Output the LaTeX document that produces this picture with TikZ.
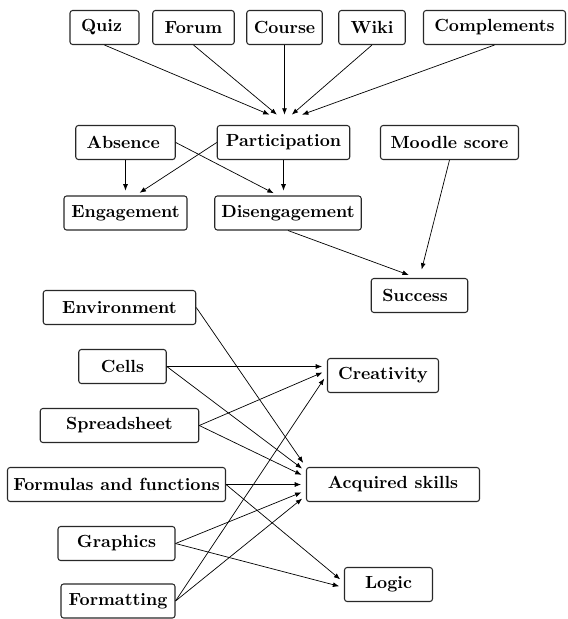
\documentclass[tikz,border=0pt]{standalone}
\usepackage{xcolor}
\usepackage{tikz}
\usetikzlibrary{positioning, arrows.meta, calc}
\definecolor{BoxLine}{RGB}{40,40,40}
\tikzset{
  concept/.style={draw=BoxLine, semithick, rounded corners=1.5pt, minimum height=0.68cm,
    inner sep=2pt, font=\bfseries, align=center},
  leftconcept/.style={concept, inner xsep=0.22cm, text width=#1, align=left},
  link/.style={-{Latex[length=3.6pt,width=2.8pt]}, shorten >=2.8pt},
}

\begin{document}
\begin{tikzpicture}
        \useasboundingbox (0,0) rectangle (11.34,-12.38);
        % resources
        \node[leftconcept=0.94cm] (quiz) at (2.09,-0.55) {Quiz};
        \node[concept, minimum width=1.63cm] (forum) at (3.87,-0.55) {Forum};
        \node[concept, minimum width=1.51cm] (course) at (5.69,-0.55) {Course};
        \node[concept, minimum width=1.33cm] (wiki) at (7.44,-0.55) {Wiki};
        \node[concept, minimum width=2.84cm] (compl) at (9.89,-0.55) {Complements};
        \node[inner sep=0pt, minimum width=1.2cm, minimum height=0.24cm] (hub) at (5.69,-2.42) {};
        % behaviour
        \node[leftconcept=1.55cm] (absence) at (2.51,-2.85) {Absence};
        \node[concept, minimum width=2.65cm] (part) at (5.67,-2.85) {Participation};
        \node[concept, minimum width=2.76cm] (moodle) at (8.99,-2.85) {Moodle score};
        \node[concept, minimum width=2.46cm] (eng) at (2.51,-4.26) {Engagement};
        \node[concept, minimum width=2.93cm] (diseng) at (5.76,-4.26) {Disengagement};
        \node[leftconcept=1.49cm] (success) at (8.39,-5.91) {Success};
        % spreadsheet topics
        \node[concept, minimum width=3.05cm] (env) at (2.39,-6.15) {Environment};
        \node[concept, minimum width=1.75cm] (cells) at (2.45,-7.33) {Cells};
        \node[concept, minimum width=3.17cm] (sheet) at (2.39,-8.51) {Spreadsheet};
        \node[concept, minimum width=4.36cm] (formulas) at (2.33,-9.69) {Formulas and functions};
        \node[concept, minimum width=2.34cm] (graphics) at (2.33,-10.87) {Graphics};
        \node[concept, minimum width=2.28cm] (formatting) at (2.36,-12.02) {Formatting};
        \node[concept, minimum width=2.22cm] (creat) at (7.66,-7.51) {Creativity};
        \node[concept, minimum width=3.46cm] (acq) at (7.86,-9.69) {Acquired skills};
        \node[concept, minimum width=1.76cm] (logic) at (7.77,-11.69) {Logic};

        \foreach \src in {quiz, forum, course, wiki, compl}
          \draw[link, shorten >=0pt] (\src.south) -- (hub);
        \draw[link] (absence.south) -- (eng.north);
        \draw[link] (part.west) -- ([xshift=0.2cm]eng.north);
        \draw[link] (absence.east) -- ([xshift=-0.2cm]diseng.north);
        \draw[link] (part.south) -- (part.south |- diseng.north);
        \draw[link, shorten >=5pt] (moodle.south) -- (success.north);
        \draw[link, shorten >=5pt] (diseng.south) -- ([xshift=-0.05cm]success.north);

        \draw[link] (env.east) -- (acq.north west);
        \draw[link] (cells.east) -- (cells.east -| creat.west);
        \draw[link] (cells.east) -- ([yshift=0.26cm]acq.west);
        \draw[link] (sheet.east) -- ([yshift=0.1cm]creat.west);
        \draw[link] (sheet.east) -- ([yshift=0.15cm]acq.west);
        \draw[link] (formulas.east) -- (acq.west);
        \draw[link] (formulas.east) -- ([yshift=0.04cm]logic.west);
        \draw[link] (graphics.east) -- ([yshift=-0.12cm]acq.west);
        \draw[link] (graphics.east) -- ([yshift=-0.06cm]logic.west);
        \draw[link] (formatting.east) -- ([yshift=0.02cm]creat.west);
        \draw[link] (formatting.east) -- ([yshift=-0.22cm]acq.west);
      \end{tikzpicture}
\end{document}
